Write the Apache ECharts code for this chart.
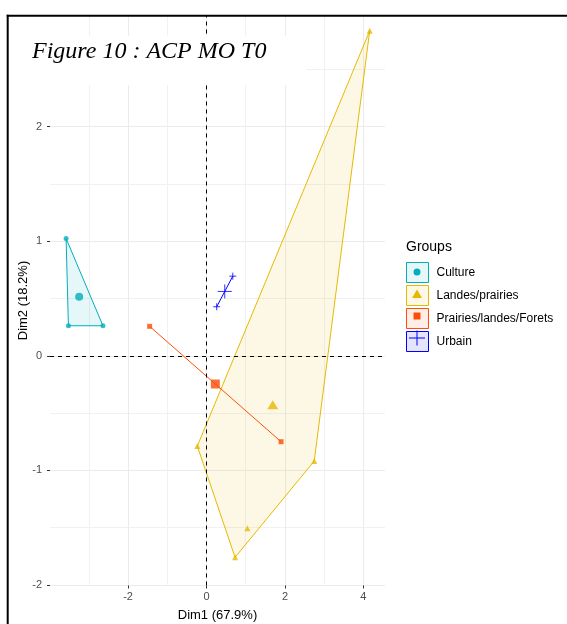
<!DOCTYPE html>
<html><head><meta charset="utf-8">
<script src="https://cdn.jsdelivr.net/npm/echarts@6/dist/echarts.min.js"></script>
<style>html,body{margin:0;padding:0;background:#fff}#c{width:567px;height:624px}</style>
</head><body><div id="c"></div>
<script>
// ---- data ----
const groups = ['Culture', 'Landes/prairies', 'Prairies/landes/Forets', 'Urbain'];
const cultureX = [-3.58, -3.52, -2.64];
const cultureY = [1.024, 0.262, 0.262];
const landesX = [4.16, -0.235, 0.728, 1.042, 2.746];
const landesY = [2.836, -0.788, -1.759, -1.506, -0.919];
const prairiesX = [-1.45, 1.90];
const prairiesY = [0.257, -0.75];
const urbainX = [0.26, 0.67];
const urbainY = [0.428, 0.695];
const xMajorTicks = [-2, 0, 2, 4];
const xMinorTicks = [-3, -1, 1, 3];
const yMajorTicks = [-2, -1, 0, 1, 2];
const yMinorTicks = [-1.5, -0.5, 0.5, 1.5, 2.5];
const xTitle = 'Dim1 (67.9%)';
const yTitle = 'Dim2 (18.2%)';
const figTitle = 'Figure 10 : ACP MO T0';
const legendTitle = 'Groups';

// ---- styling ----
const colors = ['#00AFBB', '#E7B800', '#FC4E07', '#0000FF'];
function rgba(hex, a) {
  const n = parseInt(hex.slice(1), 16);
  return 'rgba(' + (n >> 16 & 255) + ',' + (n >> 8 & 255) + ',' + (n & 255) + ',' + a + ')';
}
const crossPath = 'path://M0,5L10,5M5,0L5,10';
const pointSymbols = ['circle', 'triangle', 'rect', crossPath];
const pointSizes = [5, 6, 5, 7];
const meanSizes = [8, [11, 9], 9, 14];
const legendIcons = [
  'path://M0,0M22,20M14.5,10A3.5,3.5,0,1,1,7.5,10A3.5,3.5,0,1,1,14.5,10Z',
  'path://M0,0M22,20M11,5.5L16,14L6,14Z',
  'path://M0,0M22,20M7.5,6.5L14.5,6.5L14.5,13.5L7.5,13.5Z',
  'path://M0,0M22,20M3,9.5L19,9.5L19,10.5L3,10.5ZM10.5,2.5L11.5,2.5L11.5,17.5L10.5,17.5Z'
];

const groupX = [cultureX, landesX, prairiesX, urbainX];
const groupY = [cultureY, landesY, prairiesY, urbainY];

function hull(pts) {
  const p = pts.slice().sort((a, b) => a[0] - b[0] || a[1] - b[1]);
  if (p.length < 3) return p;
  const cross = (o, a, b) => (a[0] - o[0]) * (b[1] - o[1]) - (a[1] - o[1]) * (b[0] - o[0]);
  const lower = [], upper = [];
  for (const q of p) { while (lower.length >= 2 && cross(lower[lower.length - 2], lower[lower.length - 1], q) <= 0) lower.pop(); lower.push(q); }
  for (let i = p.length - 1; i >= 0; i--) { const q = p[i]; while (upper.length >= 2 && cross(upper[upper.length - 2], upper[upper.length - 1], q) <= 0) upper.pop(); upper.push(q); }
  upper.pop(); lower.pop();
  return lower.concat(upper);
}

const series = [];
groups.forEach((g, i) => {
  const pts = groupX[i].map((x, k) => [x, groupY[i][k]]);
  const h = hull(pts);
  series.push({
    name: g, type: 'custom', z: 2, silent: true,
    data: h,
    encode: { x: 0, y: 1 },
    renderItem: function (params, api) {
      if (params.dataIndex !== 0) return null;
      const c = h.map(p => api.coord(p));
      if (c.length >= 3) {
        return { type: 'polygon', shape: { points: c }, style: { fill: rgba(colors[i], 0.1), stroke: colors[i], lineWidth: 1 } };
      }
      return { type: 'polyline', shape: { points: c }, style: { fill: null, stroke: colors[i], lineWidth: 1 } };
    }
  });
});
groups.forEach((g, i) => {
  const pts = groupX[i].map((x, k) => [x, groupY[i][k]]);
  const s = {
    name: g, type: 'scatter', z: 3, silent: true,
    symbol: pointSymbols[i], symbolSize: pointSizes[i],
    itemStyle: i === 3 ? { color: colors[i], borderColor: colors[i], borderWidth: 1 } : { color: colors[i] },
    data: pts
  };
  if (i === 0) {
    s.markLine = {
      silent: true, symbol: 'none', animation: false, label: { show: false },
      lineStyle: { color: '#000', type: [4, 4], width: 1 },
      data: [{ xAxis: 0 }, { yAxis: 0 }]
    };
  }
  series.push(s);
});
groups.forEach((g, i) => {
  const mx = groupX[i].reduce((a, b) => a + b, 0) / groupX[i].length;
  const my = groupY[i].reduce((a, b) => a + b, 0) / groupY[i].length;
  series.push({
    name: g, type: 'scatter', z: 4, silent: true,
    symbol: pointSymbols[i], symbolSize: meanSizes[i],
    itemStyle: i === 3 ? { color: colors[i], borderColor: colors[i], borderWidth: 1 } : { color: colors[i] },
    data: [[mx, my]]
  });
});

const xMin = -3.99, xMax = 4.55, yMin = -2.005, yMax = 2.97;
const labelFont = { color: '#4d4d4d', fontSize: 11, fontFamily: 'Liberation Sans, Arial, sans-serif' };
const nameFont = { color: '#000', fontSize: 13, fontFamily: 'Liberation Sans, Arial, sans-serif' };

const option = {
  animation: false,
  grid: { left: 50, right: 182, top: 15.5, bottom: 38.5, outerBoundsMode: 'none' },
  xAxis: [
    { type: 'value', min: xMin, max: xMax, position: 'bottom',
      axisLine: { show: false, onZero: false },
      axisTick: { show: false, customValues: xMinorTicks },
      axisLabel: { show: false },
      splitLine: { show: true, lineStyle: { color: '#f1f1f1', width: 1 } } },
    { type: 'value', min: xMin, max: xMax, position: 'bottom',
      name: xTitle, nameLocation: 'middle', nameGap: 23, nameTextStyle: nameFont,
      axisLine: { show: false, onZero: false },
      axisTick: { show: true, length: 3, customValues: xMajorTicks, lineStyle: { color: '#333' } },
      axisLabel: { show: true, customValues: xMajorTicks, margin: 6, ...labelFont },
      splitLine: { show: true, lineStyle: { color: '#ebebeb', width: 1 } } }
  ],
  yAxis: [
    { type: 'value', min: yMin, max: yMax, position: 'left',
      axisLine: { show: false, onZero: false },
      axisTick: { show: false, customValues: yMinorTicks },
      axisLabel: { show: false },
      splitLine: { show: true, lineStyle: { color: '#f1f1f1', width: 1 } } },
    { type: 'value', min: yMin, max: yMax, position: 'left',
      name: yTitle, nameLocation: 'middle', nameGap: 20, nameMoveOverlap: false, nameTextStyle: nameFont,
      axisLine: { show: false, onZero: false },
      axisTick: { show: true, length: 3, customValues: yMajorTicks, lineStyle: { color: '#333' } },
      axisLabel: { show: true, customValues: yMajorTicks, margin: 8, ...labelFont },
      splitLine: { show: true, lineStyle: { color: '#ebebeb', width: 1 } } }
  ],
  legend: [
    { orient: 'vertical', left: 406, top: 262, padding: 0, itemGap: 2, itemWidth: 22, itemHeight: 20,
      selectedMode: false, z: 10,
      textStyle: { fontSize: 12, color: '#000', fontFamily: 'Liberation Sans, Arial, sans-serif', padding: [0, 0, 0, 3] },
      data: groups.map((g, i) => ({ name: g, icon: 'rect', itemStyle: { color: rgba(colors[i], 0.1), borderColor: colors[i], borderWidth: 1 } })) },
    { orient: 'vertical', left: 406, top: 262, padding: 0, itemGap: 2, itemWidth: 22, itemHeight: 20,
      selectedMode: false, z: 11, formatter: function () { return ' '; },
      textStyle: { fontSize: 12, color: '#000', fontFamily: 'Liberation Sans, Arial, sans-serif' },
      data: groups.map((g, i) => ({ name: g, icon: legendIcons[i], itemStyle: { color: colors[i], borderWidth: 0 } })) }
  ],
  graphic: [
    { type: 'rect', z: 100, silent: true, shape: { x: 10, y: 36, width: 296, height: 49 }, style: { fill: '#fff' } },
    { type: 'text', z: 101, silent: true, style: { text: figTitle, x: 32, y: 52, verticalAlign: 'middle', font: 'italic 24px "Liberation Serif", "Times New Roman", serif', fill: '#000' } },
    { type: 'text', z: 101, silent: true, style: { text: legendTitle, x: 406, y: 247, verticalAlign: 'middle', font: '14px "Liberation Sans", Arial, sans-serif', fill: '#000' } },
    { type: 'rect', z: 102, silent: true, shape: { x: 0, y: 0, width: 567, height: 14.7 }, style: { fill: '#fff' } },
    { type: 'rect', z: 103, silent: true, shape: { x: 6.7, y: 14.7, width: 561, height: 2 }, style: { fill: '#000' } },
    { type: 'rect', z: 103, silent: true, shape: { x: 6.7, y: 14.7, width: 2, height: 610 }, style: { fill: '#000' } }
  ],
  series: series
};
const chart = echarts.init(document.getElementById('c'), null, { renderer: 'canvas' });
chart.setOption(option);
</script></body></html>
